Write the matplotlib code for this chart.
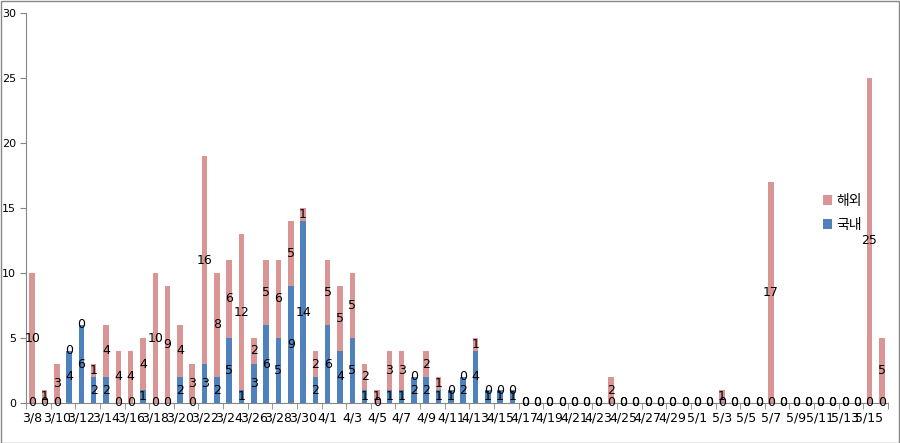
import matplotlib.pyplot as plt
import pandas as pd
from matplotlib.patches import Rectangle

plt.rcParams['font.family'] = ['DejaVu Sans', 'Noto Sans CJK KR']

# daily cases 3/8 ~ 5/16
dates = [f'{d.month}/{d.day}' for d in pd.date_range('2020-03-08', '2020-05-16')]
domestic = [0, 0, 0, 4, 6, 2, 2, 0, 0, 1,
            0, 0, 2, 0, 3, 2, 5, 1, 3, 6,
            5, 9, 14, 2, 6, 4, 5, 1, 0, 1,
            1, 2, 2, 1, 1, 2, 4, 1, 1, 1,
            0, 0, 0, 0, 0, 0, 0, 0, 0, 0,
            0, 0, 0, 0, 0, 0, 0, 0, 0, 0,
            0, 0, 0, 0, 0, 0, 0, 0, 0, 0]
overseas = [10, 1, 3, 0, 0, 1, 4, 4, 4, 4,
            10, 9, 4, 3, 16, 8, 6, 12, 2, 5,
            6, 5, 1, 2, 5, 5, 5, 2, 1, 3,
            3, 0, 2, 1, 0, 0, 1, 0, 0, 0,
            0, 0, 0, 0, 0, 0, 0, 2, 0, 0,
            0, 0, 0, 0, 0, 0, 1, 0, 0, 0,
            17, 0, 0, 0, 0, 0, 0, 0, 25, 5]

blue = '#4F81BD'
pink = '#D99694'
gray = '#868686'

fig = plt.figure(figsize=(9, 4.43), dpi=100)
ax = fig.add_axes([26 / 900, 40 / 443, 862 / 900, 390 / 443])

x = list(range(len(dates)))
ax.bar(x, domestic, width=0.45, color=blue, label='국내')
ax.bar(x, overseas, width=0.45, bottom=domestic, color=pink, label='해외')

for i in x:
    ax.text(i, domestic[i] / 2, str(domestic[i]), ha='center', va='center', fontsize=9)
    ax.text(i, domestic[i] + overseas[i] / 2, str(overseas[i]), ha='center', va='center', fontsize=9)

ax.set_xlim(-0.5, len(dates) - 0.5)
ax.set_ylim(0, 30)
ax.set_yticks(range(0, 31, 5))
ax.set_xticks(x[::2])
ax.set_xticklabels(dates[::2], fontsize=9)
ax.set_xticks([i - 0.5 for i in range(0, len(dates) + 1, 2)], minor=True)
ax.tick_params(axis='x', which='major', length=0, pad=6)
ax.tick_params(axis='x', which='minor', length=4, color=gray)
ax.tick_params(axis='y', length=4, color=gray, labelsize=8, pad=3)

for s in ['top', 'right']:
    ax.spines[s].set_visible(False)
for s in ['left', 'bottom']:
    ax.spines[s].set_color(gray)

h, l = ax.get_legend_handles_labels()
fig.legend(h[::-1], l[::-1], loc='center left', bbox_to_anchor=(810 / 900, 1 - 213 / 443),
           frameon=False, fontsize=10, handlelength=0.7, handleheight=0.7,
           handletextpad=0.3, labelspacing=0.7)

fig.patches.append(Rectangle((0.001, 0.001), 0.998, 0.997, transform=fig.transFigure,
                             fill=False, edgecolor=gray, linewidth=1))

plt.savefig('out.png')
